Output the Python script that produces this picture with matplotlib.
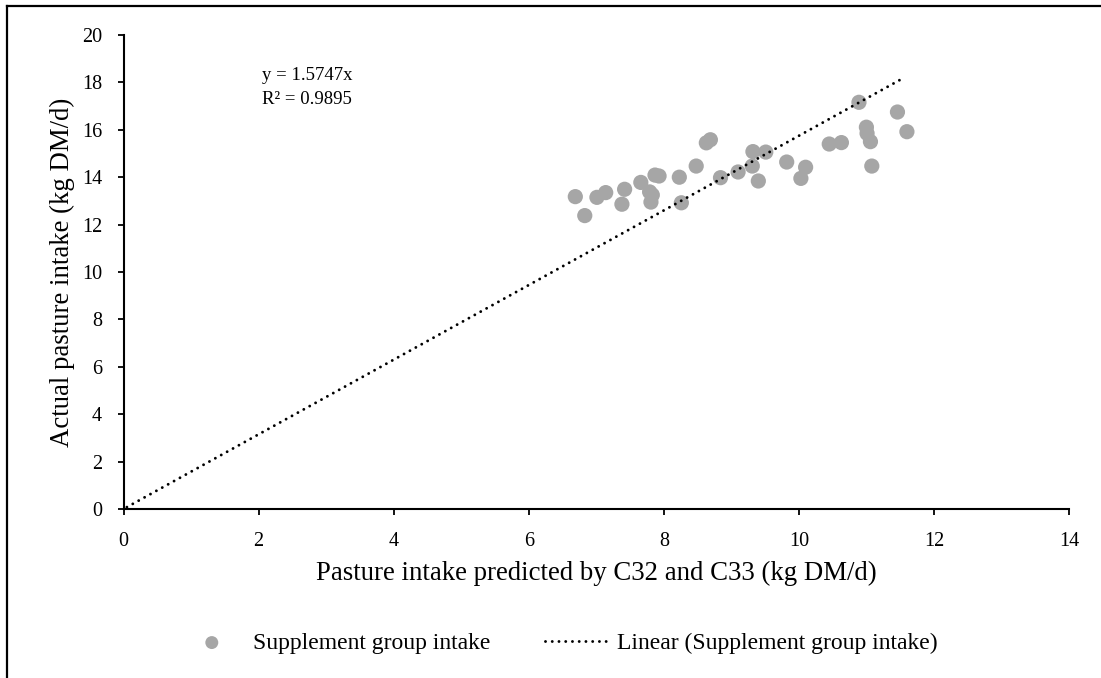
import matplotlib
matplotlib.use("Agg")
import matplotlib.pyplot as plt
from matplotlib.lines import Line2D
import numpy as np

plt.rcParams['font.family'] = ['Liberation Serif', 'DejaVu Serif']

predicted = [6.69, 6.83, 7.01, 7.14, 7.42, 7.38, 7.66, 7.79, 7.83, 7.81,
             7.87, 7.93, 8.23, 8.26, 8.48, 8.63, 8.69, 8.84, 9.10, 9.32,
             9.51, 9.31, 9.40, 9.82, 10.03, 10.10, 10.45, 10.63, 10.89, 11.00,
             11.01, 11.06, 11.08, 11.46, 11.60]
actual = [13.18, 12.38, 13.15, 13.35, 13.49, 12.86, 13.78, 13.38, 13.25, 12.95,
          14.09, 14.05, 14.00, 12.92, 14.47, 15.45, 15.58, 13.98, 14.22, 15.08,
          15.06, 14.47, 13.84, 14.64, 13.95, 14.42, 15.40, 15.46, 17.16, 16.11,
          15.85, 15.50, 14.47, 16.75, 15.92]
slope = 1.5747
r2 = 0.9895
trend_x = [0.05, 11.55]

x_ticks = [0, 2, 4, 6, 8, 10, 12, 14]
y_ticks = [0, 2, 4, 6, 8, 10, 12, 14, 16, 18, 20]

W, H = 1101, 678
fig = plt.figure(figsize=(W / 100, H / 100), dpi=100)

# outer frame (left and top edges)
fig.add_artist(Line2D([7 / W, 7 / W], [0, 1 - 6 / H], color='black', lw=1.6,
                      transform=fig.transFigure))
fig.add_artist(Line2D([7 / W, 1], [1 - 6 / H, 1 - 6 / H], color='black', lw=1.6,
                      transform=fig.transFigure))

ax = fig.add_axes([123.5 / W, (H - 509) / H, (1069 - 123.5) / W, (509 - 35) / H])

sc = ax.scatter(predicted, actual, s=120, color='#A6A6A6', edgecolors='none', zorder=2,
                label='Supplement group intake')
tx = np.array(trend_x)
ln, = ax.plot(tx, slope * tx, color='black', lw=2.1, linestyle=(0, (0.01, 2.3)),
              dash_capstyle='round', zorder=3, label='Linear (Supplement group intake)')

ax.set_xlim(0, 14)
ax.set_ylim(0, 20)
ax.set_xticks(x_ticks)
ax.set_yticks(y_ticks)
ax.tick_params(axis='both', direction='out', length=4.5, width=1.3, labelsize=14.5,
               colors='black')
ax.tick_params(axis='x', pad=12)
ax.tick_params(axis='y', pad=11)
for s in ['top', 'right']:
    ax.spines[s].set_visible(False)
for s in ['left', 'bottom']:
    ax.spines[s].set_linewidth(1.5)

ax.set_xlabel('Pasture intake predicted by C32 and C33 (kg DM/d)', fontsize=19.3, labelpad=7)
ax.set_ylabel('Actual pasture intake (kg DM/d)', fontsize=19.3, labelpad=5)

ax.text(262, H - 75, f'y = {slope}x', transform=None, fontsize=13.5,
        va='center', ha='left')
ax.text(262, H - 100, f'R² = {r2}', transform=None, fontsize=13.5,
        va='center', ha='left')

leg_y = 1 - 643 / H
leg1 = fig.legend(handles=[sc], loc='center left', bbox_to_anchor=(200 / W, leg_y),
                  frameon=False, fontsize=17, handlelength=1.0, handletextpad=1.24,
                  borderaxespad=0, borderpad=0, markerscale=0.85)
leg2 = fig.legend(handles=[ln], loc='center left', bbox_to_anchor=(545 / W, leg_y),
                  frameon=False, fontsize=17, handlelength=2.75, handletextpad=0.3,
                  borderaxespad=0, borderpad=0)

fig.savefig('out.png', dpi=100, facecolor='white')
